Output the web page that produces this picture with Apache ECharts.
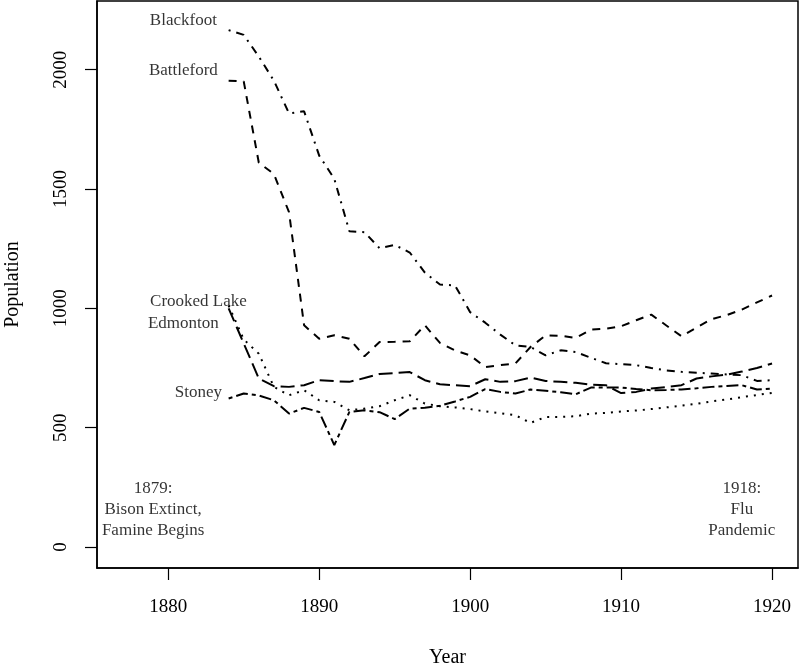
<!DOCTYPE html>
<html>
<head>
<meta charset="utf-8">
<script src="https://cdn.jsdelivr.net/npm/echarts@6/dist/echarts.min.js"></script>
<style>
  html, body { margin: 0; padding: 0; background: #fff; }
  #main { width: 800px; height: 666px; }
</style>
</head>
<body>
<div id="main"></div>
<script>
const years = [1884, 1885, 1886, 1887, 1888, 1889, 1890, 1891, 1892, 1893, 1894, 1895, 1896,
  1897, 1898, 1899, 1900, 1901, 1902, 1903, 1904, 1905, 1906, 1907, 1908, 1909, 1910, 1911,
  1912, 1913, 1914, 1915, 1916, 1917, 1918, 1919, 1920];
const battleford = [1954, 1951, 1610, 1563, 1403, 929, 873, 887, 873, 799, 859, 860, 862,
  929, 855, 824, 803, 754, 762, 769, 838, 887, 885, 876, 911, 915, 925, 950,
  974, 928, 883, 920, 955, 972, 995, 1025, 1054];
const blackfoot = [2166, 2146, 2055, 1954, 1817, 1826, 1640, 1543, 1323, 1319, 1252, 1266, 1234,
  1150, 1100, 1096, 984, 940, 890, 845, 838, 803, 824, 817, 793, 770, 766, 762,
  750, 740, 734, 730, 727, 723, 720, 696, 699];
const crookedLake = [1012, 870, 810, 671, 636, 657, 615, 608, 573, 580, 590, 615, 636,
  601, 590, 585, 578, 568, 560, 552, 520, 545, 545, 548, 559, 562, 568, 572,
  578, 585, 592, 600, 610, 618, 628, 637, 646];
const edmonton = [1000, 853, 706, 674, 671, 678, 699, 695, 692, 708, 725, 729, 733,
  699, 682, 678, 674, 703, 692, 695, 710, 696, 692, 688, 680, 678, 645, 650,
  664, 670, 678, 706, 715, 722, 735, 750, 769];
const stoney = [622, 643, 635, 615, 559, 583, 566, 427, 566, 573, 565, 536, 580,
  584, 592, 610, 629, 662, 650, 643, 660, 655, 648, 640, 668, 668, 668, 662,
  657, 658, 660, 665, 671, 675, 678, 660, 664];

const xTicks = [1880, 1890, 1900, 1910, 1920];
const yTicks = [0, 500, 1000, 1500, 2000];

// series labels drawn at the start of each line
const labelNames = ['Blackfoot', 'Battleford', 'Crooked Lake', 'Edmonton', 'Stoney'];
const labelX = [1881, 1881, 1882, 1881, 1882];
const labelY = [2205, 1996, 1029, 937, 649];

// event notes
const noteText = ['1879:\nBison Extinct,\nFamine Begins', '1918:\nFlu\nPandemic'];
const noteX = [1879, 1918];
const noteY = [159, 159];

const font = "'Liberation Serif', 'Times New Roman', Times, serif";

const lines = [
  { name: 'Battleford', data: battleford, dash: [8, 7] },
  { name: 'Blackfoot', data: blackfoot, dash: [2, 6, 8, 6] },
  { name: 'Crooked Lake', data: crookedLake, dash: [2, 6] },
  { name: 'Edmonton', data: edmonton, dash: [14, 6] },
  { name: 'Stoney', data: stoney, dash: [4, 4, 12, 4] }
];

const chart = echarts.init(document.getElementById('main'), null, { renderer: 'canvas' });

const series = lines.map(l => ({
  name: l.name,
  type: 'line',
  data: years.map((y, i) => [y, l.data[i]]),
  showSymbol: false,
  silent: true,
  lineStyle: { color: '#000', width: 2, type: l.dash }
}));

series.push({
  type: 'scatter',
  symbolSize: 0,
  silent: true,
  data: labelNames.map((n, i) => ({ value: [labelX[i], labelY[i]], name: n })),
  label: {
    show: true, position: 'inside', formatter: p => p.name,
    color: '#000', textBorderWidth: 0, fontFamily: font, fontSize: 17
  }
});

series.push({
  type: 'scatter',
  symbolSize: 0,
  silent: true,
  data: noteText.map((t, i) => ({ value: [noteX[i], noteY[i]], name: t })),
  label: {
    show: true, position: 'inside', formatter: p => p.name,
    color: '#000', textBorderWidth: 0, fontFamily: font, fontSize: 17, lineHeight: 21, align: 'center'
  }
});

chart.setOption({
  animation: false,
  backgroundColor: '#fff',
  grid: {
    left: 97, right: 2, top: 1, bottom: 98,
    outerBoundsMode: 'none',
    containLabel: false,
    show: true, borderColor: '#000', borderWidth: 1.5
  },
  xAxis: {
    type: 'value',
    min: 1875.28,
    max: 1921.72,
    name: 'Year',
    nameLocation: 'middle',
    nameGap: 80,
    nameTextStyle: { color: '#000', fontFamily: font, fontSize: 20 },
    axisLine: { show: true, onZero: false, lineStyle: { color: '#000', width: 1.5 } },
    axisTick: { show: true, length: 12, customValues: xTicks, lineStyle: { color: '#000', width: 1.2 } },
    axisLabel: {
      customValues: xTicks, margin: 30, color: '#000', fontFamily: font, fontSize: 19,
      formatter: v => String(v)
    },
    splitLine: { show: false }
  },
  yAxis: {
    type: 'value',
    min: -88,
    max: 2288,
    name: 'Population',
    nameLocation: 'middle',
    nameGap: 74,
    nameTextStyle: { color: '#000', fontFamily: font, fontSize: 20 },
    axisLine: { show: true, onZero: false, lineStyle: { color: '#000', width: 1.5 } },
    axisTick: { show: true, length: 12, customValues: yTicks, lineStyle: { color: '#000', width: 1.2 } },
    axisLabel: {
      customValues: yTicks, rotate: 90, margin: 26, color: '#000', fontFamily: font, fontSize: 19,
      formatter: v => String(v)
    },
    splitLine: { show: false }
  },
  series: series
});
</script>
</body>
</html>
